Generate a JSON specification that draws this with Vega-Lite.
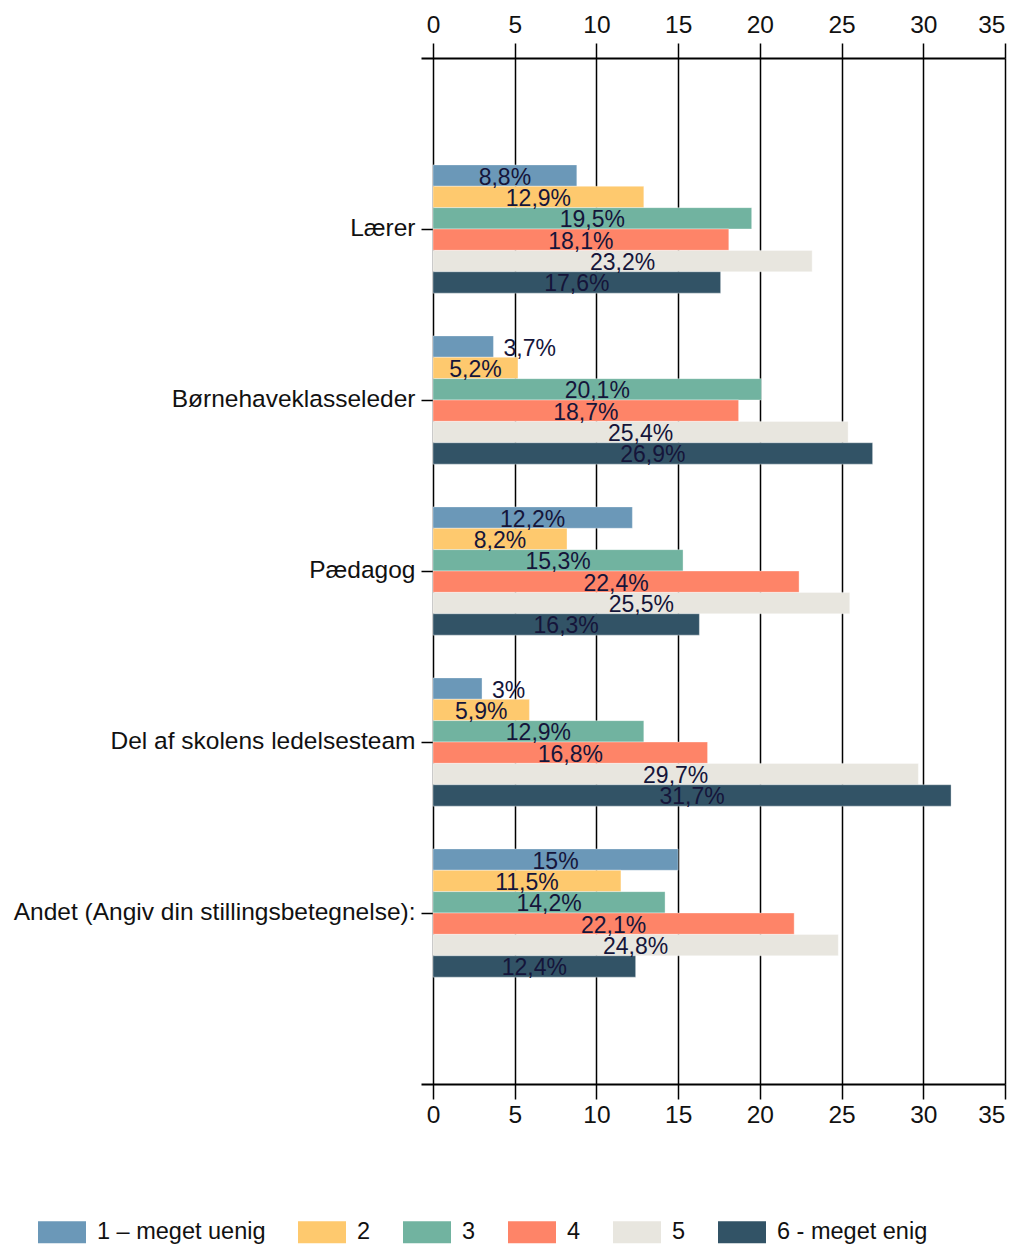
{
  "$schema": "https://vega.github.io/schema/vega-lite/v6.json",
  "width": 584,
  "height": 1026,
  "autosize": "none",
  "padding": {"left": 421, "top": 58, "right": 17, "bottom": 163},
  "config": {
    "view": {"stroke": null},
    "font": "Liberation Sans",
    "axis": {"labelFont": "Liberation Sans", "labelColor": "#111111"},
    "legend": {"labelFont": "Liberation Sans"}
  },
  "data": {
    "values": [
      {"role": "Lærer", "series": "1 – meget uenig", "value": 8.8},
      {"role": "Lærer", "series": "2", "value": 12.9},
      {"role": "Lærer", "series": "3", "value": 19.5},
      {"role": "Lærer", "series": "4", "value": 18.1},
      {"role": "Lærer", "series": "5", "value": 23.2},
      {"role": "Lærer", "series": "6 - meget enig", "value": 17.6},
      {"role": "Børnehaveklasseleder", "series": "1 – meget uenig", "value": 3.7},
      {"role": "Børnehaveklasseleder", "series": "2", "value": 5.2},
      {"role": "Børnehaveklasseleder", "series": "3", "value": 20.1},
      {"role": "Børnehaveklasseleder", "series": "4", "value": 18.7},
      {"role": "Børnehaveklasseleder", "series": "5", "value": 25.4},
      {"role": "Børnehaveklasseleder", "series": "6 - meget enig", "value": 26.9},
      {"role": "Pædagog", "series": "1 – meget uenig", "value": 12.2},
      {"role": "Pædagog", "series": "2", "value": 8.2},
      {"role": "Pædagog", "series": "3", "value": 15.3},
      {"role": "Pædagog", "series": "4", "value": 22.4},
      {"role": "Pædagog", "series": "5", "value": 25.5},
      {"role": "Pædagog", "series": "6 - meget enig", "value": 16.3},
      {"role": "Del af skolens ledelsesteam", "series": "1 – meget uenig", "value": 3},
      {"role": "Del af skolens ledelsesteam", "series": "2", "value": 5.9},
      {"role": "Del af skolens ledelsesteam", "series": "3", "value": 12.9},
      {"role": "Del af skolens ledelsesteam", "series": "4", "value": 16.8},
      {"role": "Del af skolens ledelsesteam", "series": "5", "value": 29.7},
      {"role": "Del af skolens ledelsesteam", "series": "6 - meget enig", "value": 31.7},
      {"role": "Andet (Angiv din stillingsbetegnelse):", "series": "1 – meget uenig", "value": 15},
      {"role": "Andet (Angiv din stillingsbetegnelse):", "series": "2", "value": 11.5},
      {"role": "Andet (Angiv din stillingsbetegnelse):", "series": "3", "value": 14.2},
      {"role": "Andet (Angiv din stillingsbetegnelse):", "series": "4", "value": 22.1},
      {"role": "Andet (Angiv din stillingsbetegnelse):", "series": "5", "value": 24.8},
      {"role": "Andet (Angiv din stillingsbetegnelse):", "series": "6 - meget enig", "value": 12.4}
    ]
  },
  "transform": [
    {"calculate": "replace(format(datum.value, '.1~f'), '.', ',') + '%'", "as": "label"},
    {"calculate": "datum.value / 2", "as": "mid"}
  ],
  "encoding": {
    "y": {
      "field": "role",
      "type": "nominal",
      "sort": ["Lærer", "Børnehaveklasseleder", "Pædagog", "Del af skolens ledelsesteam", "Andet (Angiv din stillingsbetegnelse):"],
      "scale": {"paddingInner": 0.25, "paddingOuter": 0.625},
      "axis": {
        "title": null,
        "domain": false,
        "ticks": true,
        "tickSize": 12,
        "tickColor": "#000000",
        "tickWidth": 1.5,
        "offset": -12,
        "labelFontSize": 24.5,
        "labelPadding": 6,
        "labelLimit": 0,
        "labelColor": "#111111"
      }
    },
    "yOffset": {
      "field": "series",
      "type": "nominal",
      "sort": ["1 – meget uenig", "2", "3", "4", "5", "6 - meget enig"],
      "scale": {"paddingInner": 0, "paddingOuter": 0}
    }
  },
  "layer": [
    {
      "mark": {"type": "bar", "stroke": "#ffffff", "strokeWidth": 0.6, "strokeOpacity": 0.6},
      "encoding": {
        "x": {
          "field": "value",
          "type": "quantitative",
          "scale": {"domain": [-0.734, 35], "nice": false, "zero": false},
          "axis": {
            "orient": "top",
            "title": null,
            "values": [0, 5, 10, 15, 20, 25, 30, 35],
            "grid": true,
            "gridColor": "#000000",
            "gridWidth": 1.5,
            "gridOpacity": 1,
            "domainColor": "#000000",
            "domainWidth": 2,
            "tickColor": "#000000",
            "tickWidth": 1.5,
            "tickSize": 15,
            "labelFontSize": 24.5,
            "labelPadding": 6,
            "labelColor": "#111111"
          }
        },
        "color": {
          "field": "series",
          "type": "nominal",
          "scale": {
            "domain": ["1 – meget uenig", "2", "3", "4", "5", "6 - meget enig"],
            "range": ["#6b98b8", "#fec96e", "#71b3a0", "#fe8468", "#e8e6df", "#325366"]
          },
          "legend": {
            "title": null,
            "orient": "none",
            "direction": "horizontal",
            "columns": 6,
            "legendX": -383,
            "legendY": 1150,
            "symbolType": "M-1,-0.46L1,-0.46L1,0.46L-1,0.46Z",
            "symbolSize": 2304,
            "symbolStrokeWidth": 0,
            "symbolOpacity": 1,
            "labelFontSize": 23.5,
            "labelLimit": 0,
            "labelColor": "#111111",
            "labelOffset": 11,
            "columnPadding": 32,
            "padding": 0
          }
        }
      }
    },
    {
      "transform": [{"filter": "datum.value >= 4"}],
      "mark": {"type": "text", "fontSize": 23, "color": "#15153a", "baseline": "middle", "align": "center", "dy": 2},
      "encoding": {
        "x": {
          "field": "mid",
          "type": "quantitative",
          "axis": {
            "orient": "bottom",
            "title": null,
            "values": [0, 5, 10, 15, 20, 25, 30, 35],
            "grid": false,
            "domainColor": "#000000",
            "domainWidth": 2,
            "tickColor": "#000000",
            "tickWidth": 1.5,
            "tickSize": 15,
            "labelFontSize": 24.5,
            "labelPadding": 4,
            "labelColor": "#111111"
          }
        },
        "text": {"field": "label"}
      }
    },
    {
      "transform": [{"filter": "datum.value < 4"}],
      "mark": {"type": "text", "fontSize": 23, "color": "#15153a", "baseline": "middle", "align": "left", "dx": 10, "dy": 2},
      "encoding": {
        "x": {"field": "value", "type": "quantitative", "axis": null},
        "text": {"field": "label"}
      }
    }
  ],
  "resolve": {"axis": {"x": "independent"}}
}
